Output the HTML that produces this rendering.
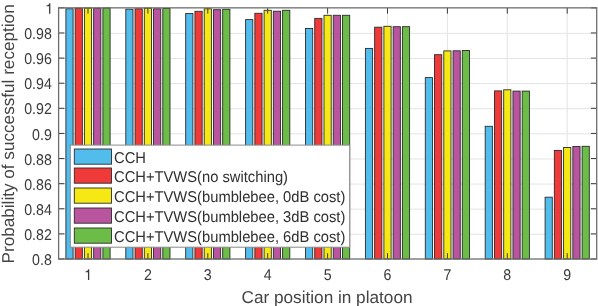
<!DOCTYPE html><html><head><meta charset="utf-8"><style>html,body{margin:0;padding:0;background:#fff;width:598px;height:306px;overflow:hidden}svg{display:block;will-change:transform}text{font-family:"Liberation Sans",sans-serif;text-rendering:geometricPrecision}</style></head><body><svg width="598" height="306" viewBox="0 0 598 306"><line x1="58.6" y1="234.28" x2="596.7" y2="234.28" stroke="#c8c8c8" stroke-width="1" stroke-dasharray="1 1"/><line x1="58.6" y1="209.17" x2="596.7" y2="209.17" stroke="#c8c8c8" stroke-width="1" stroke-dasharray="1 1"/><line x1="58.6" y1="184.06" x2="596.7" y2="184.06" stroke="#c8c8c8" stroke-width="1" stroke-dasharray="1 1"/><line x1="58.6" y1="158.94" x2="596.7" y2="158.94" stroke="#c8c8c8" stroke-width="1" stroke-dasharray="1 1"/><line x1="58.6" y1="133.82" x2="596.7" y2="133.82" stroke="#c8c8c8" stroke-width="1" stroke-dasharray="1 1"/><line x1="58.6" y1="108.71" x2="596.7" y2="108.71" stroke="#c8c8c8" stroke-width="1" stroke-dasharray="1 1"/><line x1="58.6" y1="83.59" x2="596.7" y2="83.59" stroke="#c8c8c8" stroke-width="1" stroke-dasharray="1 1"/><line x1="58.6" y1="58.48" x2="596.7" y2="58.48" stroke="#c8c8c8" stroke-width="1" stroke-dasharray="1 1"/><line x1="58.6" y1="33.36" x2="596.7" y2="33.36" stroke="#c8c8c8" stroke-width="1" stroke-dasharray="1 1"/><line x1="88.00" y1="7.85" x2="88.00" y2="259.0" stroke="#e4e4e4" stroke-width="1"/><line x1="147.90" y1="7.85" x2="147.90" y2="259.0" stroke="#e4e4e4" stroke-width="1"/><line x1="207.80" y1="7.85" x2="207.80" y2="259.0" stroke="#e4e4e4" stroke-width="1"/><line x1="267.70" y1="7.85" x2="267.70" y2="259.0" stroke="#e4e4e4" stroke-width="1"/><line x1="327.60" y1="7.85" x2="327.60" y2="259.0" stroke="#e4e4e4" stroke-width="1"/><line x1="387.50" y1="7.85" x2="387.50" y2="259.0" stroke="#e4e4e4" stroke-width="1"/><line x1="447.40" y1="7.85" x2="447.40" y2="259.0" stroke="#e4e4e4" stroke-width="1"/><line x1="507.30" y1="7.85" x2="507.30" y2="259.0" stroke="#e4e4e4" stroke-width="1"/><line x1="567.20" y1="7.85" x2="567.20" y2="259.0" stroke="#e4e4e4" stroke-width="1"/><rect x="65.90" y="8.80" width="7.20" height="250.20" fill="#52bdec" stroke="#2b2b2b" stroke-width="0.9"/><rect x="75.15" y="8.20" width="7.20" height="250.80" fill="#f03a3a" stroke="#2b2b2b" stroke-width="0.9"/><rect x="84.40" y="8.00" width="7.20" height="251.00" fill="#f6e813" stroke="#2b2b2b" stroke-width="0.9"/><rect x="93.65" y="8.20" width="7.20" height="250.80" fill="#b9549e" stroke="#2b2b2b" stroke-width="0.9"/><rect x="102.90" y="8.00" width="7.20" height="251.00" fill="#6cbd47" stroke="#2b2b2b" stroke-width="0.9"/><rect x="125.80" y="9.20" width="7.20" height="249.80" fill="#52bdec" stroke="#2b2b2b" stroke-width="0.9"/><rect x="135.05" y="8.80" width="7.20" height="250.20" fill="#f03a3a" stroke="#2b2b2b" stroke-width="0.9"/><rect x="144.30" y="8.20" width="7.20" height="250.80" fill="#f6e813" stroke="#2b2b2b" stroke-width="0.9"/><rect x="153.55" y="8.80" width="7.20" height="250.20" fill="#b9549e" stroke="#2b2b2b" stroke-width="0.9"/><rect x="162.80" y="8.50" width="7.20" height="250.50" fill="#6cbd47" stroke="#2b2b2b" stroke-width="0.9"/><rect x="185.70" y="13.50" width="7.20" height="245.50" fill="#52bdec" stroke="#2b2b2b" stroke-width="0.9"/><rect x="194.95" y="11.30" width="7.20" height="247.70" fill="#f03a3a" stroke="#2b2b2b" stroke-width="0.9"/><rect x="204.20" y="8.80" width="7.20" height="250.20" fill="#f6e813" stroke="#2b2b2b" stroke-width="0.9"/><rect x="213.45" y="9.70" width="7.20" height="249.30" fill="#b9549e" stroke="#2b2b2b" stroke-width="0.9"/><rect x="222.70" y="9.30" width="7.20" height="249.70" fill="#6cbd47" stroke="#2b2b2b" stroke-width="0.9"/><rect x="245.60" y="19.60" width="7.20" height="239.40" fill="#52bdec" stroke="#2b2b2b" stroke-width="0.9"/><rect x="254.85" y="13.30" width="7.20" height="245.70" fill="#f03a3a" stroke="#2b2b2b" stroke-width="0.9"/><rect x="264.10" y="10.30" width="7.20" height="248.70" fill="#f6e813" stroke="#2b2b2b" stroke-width="0.9"/><rect x="273.35" y="11.20" width="7.20" height="247.80" fill="#b9549e" stroke="#2b2b2b" stroke-width="0.9"/><rect x="282.60" y="10.30" width="7.20" height="248.70" fill="#6cbd47" stroke="#2b2b2b" stroke-width="0.9"/><rect x="305.50" y="28.50" width="7.20" height="230.50" fill="#52bdec" stroke="#2b2b2b" stroke-width="0.9"/><rect x="314.75" y="18.40" width="7.20" height="240.60" fill="#f03a3a" stroke="#2b2b2b" stroke-width="0.9"/><rect x="324.00" y="15.30" width="7.20" height="243.70" fill="#f6e813" stroke="#2b2b2b" stroke-width="0.9"/><rect x="333.25" y="15.30" width="7.20" height="243.70" fill="#b9549e" stroke="#2b2b2b" stroke-width="0.9"/><rect x="342.50" y="15.30" width="7.20" height="243.70" fill="#6cbd47" stroke="#2b2b2b" stroke-width="0.9"/><rect x="365.40" y="48.40" width="7.20" height="210.60" fill="#52bdec" stroke="#2b2b2b" stroke-width="0.9"/><rect x="374.65" y="27.20" width="7.20" height="231.80" fill="#f03a3a" stroke="#2b2b2b" stroke-width="0.9"/><rect x="383.90" y="26.30" width="7.20" height="232.70" fill="#f6e813" stroke="#2b2b2b" stroke-width="0.9"/><rect x="393.15" y="26.70" width="7.20" height="232.30" fill="#b9549e" stroke="#2b2b2b" stroke-width="0.9"/><rect x="402.40" y="26.70" width="7.20" height="232.30" fill="#6cbd47" stroke="#2b2b2b" stroke-width="0.9"/><rect x="425.30" y="77.60" width="7.20" height="181.40" fill="#52bdec" stroke="#2b2b2b" stroke-width="0.9"/><rect x="434.55" y="54.70" width="7.20" height="204.30" fill="#f03a3a" stroke="#2b2b2b" stroke-width="0.9"/><rect x="443.80" y="50.90" width="7.20" height="208.10" fill="#f6e813" stroke="#2b2b2b" stroke-width="0.9"/><rect x="453.05" y="50.80" width="7.20" height="208.20" fill="#b9549e" stroke="#2b2b2b" stroke-width="0.9"/><rect x="462.30" y="50.50" width="7.20" height="208.50" fill="#6cbd47" stroke="#2b2b2b" stroke-width="0.9"/><rect x="485.20" y="126.30" width="7.20" height="132.70" fill="#52bdec" stroke="#2b2b2b" stroke-width="0.9"/><rect x="494.45" y="90.90" width="7.20" height="168.10" fill="#f03a3a" stroke="#2b2b2b" stroke-width="0.9"/><rect x="503.70" y="89.80" width="7.20" height="169.20" fill="#f6e813" stroke="#2b2b2b" stroke-width="0.9"/><rect x="512.95" y="91.10" width="7.20" height="167.90" fill="#b9549e" stroke="#2b2b2b" stroke-width="0.9"/><rect x="522.20" y="91.10" width="7.20" height="167.90" fill="#6cbd47" stroke="#2b2b2b" stroke-width="0.9"/><rect x="545.10" y="197.20" width="7.20" height="61.80" fill="#52bdec" stroke="#2b2b2b" stroke-width="0.9"/><rect x="554.35" y="150.40" width="7.20" height="108.60" fill="#f03a3a" stroke="#2b2b2b" stroke-width="0.9"/><rect x="563.60" y="147.50" width="7.20" height="111.50" fill="#f6e813" stroke="#2b2b2b" stroke-width="0.9"/><rect x="572.85" y="146.50" width="7.20" height="112.50" fill="#b9549e" stroke="#2b2b2b" stroke-width="0.9"/><rect x="582.10" y="146.30" width="7.20" height="112.70" fill="#6cbd47" stroke="#2b2b2b" stroke-width="0.9"/><line x1="88.00" y1="7.85" x2="88.00" y2="13.649999999999999" stroke="#3a3a3a" stroke-width="1"/><line x1="88.00" y1="259.0" x2="88.00" y2="253.2" stroke="#3a3a3a" stroke-width="1"/><line x1="147.90" y1="7.85" x2="147.90" y2="13.649999999999999" stroke="#3a3a3a" stroke-width="1"/><line x1="147.90" y1="259.0" x2="147.90" y2="253.2" stroke="#3a3a3a" stroke-width="1"/><line x1="207.80" y1="7.85" x2="207.80" y2="13.649999999999999" stroke="#3a3a3a" stroke-width="1"/><line x1="207.80" y1="259.0" x2="207.80" y2="253.2" stroke="#3a3a3a" stroke-width="1"/><line x1="267.70" y1="7.85" x2="267.70" y2="13.649999999999999" stroke="#3a3a3a" stroke-width="1"/><line x1="267.70" y1="259.0" x2="267.70" y2="253.2" stroke="#3a3a3a" stroke-width="1"/><line x1="327.60" y1="7.85" x2="327.60" y2="13.649999999999999" stroke="#3a3a3a" stroke-width="1"/><line x1="327.60" y1="259.0" x2="327.60" y2="253.2" stroke="#3a3a3a" stroke-width="1"/><line x1="387.50" y1="7.85" x2="387.50" y2="13.649999999999999" stroke="#3a3a3a" stroke-width="1"/><line x1="387.50" y1="259.0" x2="387.50" y2="253.2" stroke="#3a3a3a" stroke-width="1"/><line x1="447.40" y1="7.85" x2="447.40" y2="13.649999999999999" stroke="#3a3a3a" stroke-width="1"/><line x1="447.40" y1="259.0" x2="447.40" y2="253.2" stroke="#3a3a3a" stroke-width="1"/><line x1="507.30" y1="7.85" x2="507.30" y2="13.649999999999999" stroke="#3a3a3a" stroke-width="1"/><line x1="507.30" y1="259.0" x2="507.30" y2="253.2" stroke="#3a3a3a" stroke-width="1"/><line x1="567.20" y1="7.85" x2="567.20" y2="13.649999999999999" stroke="#3a3a3a" stroke-width="1"/><line x1="567.20" y1="259.0" x2="567.20" y2="253.2" stroke="#3a3a3a" stroke-width="1"/><line x1="58.6" y1="259.00" x2="64.4" y2="259.00" stroke="#3a3a3a" stroke-width="1"/><line x1="596.7" y1="259.00" x2="590.9000000000001" y2="259.00" stroke="#3a3a3a" stroke-width="1"/><line x1="58.6" y1="233.88" x2="64.4" y2="233.88" stroke="#3a3a3a" stroke-width="1"/><line x1="596.7" y1="233.88" x2="590.9000000000001" y2="233.88" stroke="#3a3a3a" stroke-width="1"/><line x1="58.6" y1="208.77" x2="64.4" y2="208.77" stroke="#3a3a3a" stroke-width="1"/><line x1="596.7" y1="208.77" x2="590.9000000000001" y2="208.77" stroke="#3a3a3a" stroke-width="1"/><line x1="58.6" y1="183.66" x2="64.4" y2="183.66" stroke="#3a3a3a" stroke-width="1"/><line x1="596.7" y1="183.66" x2="590.9000000000001" y2="183.66" stroke="#3a3a3a" stroke-width="1"/><line x1="58.6" y1="158.54" x2="64.4" y2="158.54" stroke="#3a3a3a" stroke-width="1"/><line x1="596.7" y1="158.54" x2="590.9000000000001" y2="158.54" stroke="#3a3a3a" stroke-width="1"/><line x1="58.6" y1="133.42" x2="64.4" y2="133.42" stroke="#3a3a3a" stroke-width="1"/><line x1="596.7" y1="133.42" x2="590.9000000000001" y2="133.42" stroke="#3a3a3a" stroke-width="1"/><line x1="58.6" y1="108.31" x2="64.4" y2="108.31" stroke="#3a3a3a" stroke-width="1"/><line x1="596.7" y1="108.31" x2="590.9000000000001" y2="108.31" stroke="#3a3a3a" stroke-width="1"/><line x1="58.6" y1="83.19" x2="64.4" y2="83.19" stroke="#3a3a3a" stroke-width="1"/><line x1="596.7" y1="83.19" x2="590.9000000000001" y2="83.19" stroke="#3a3a3a" stroke-width="1"/><line x1="58.6" y1="58.08" x2="64.4" y2="58.08" stroke="#3a3a3a" stroke-width="1"/><line x1="596.7" y1="58.08" x2="590.9000000000001" y2="58.08" stroke="#3a3a3a" stroke-width="1"/><line x1="58.6" y1="32.96" x2="64.4" y2="32.96" stroke="#3a3a3a" stroke-width="1"/><line x1="596.7" y1="32.96" x2="590.9000000000001" y2="32.96" stroke="#3a3a3a" stroke-width="1"/><line x1="58.6" y1="7.85" x2="64.4" y2="7.85" stroke="#3a3a3a" stroke-width="1"/><line x1="596.7" y1="7.85" x2="590.9000000000001" y2="7.85" stroke="#3a3a3a" stroke-width="1"/><rect x="58.6" y="7.85" width="538.10" height="251.15" fill="none" stroke="#6e6e6e" stroke-width="1.3"/><text transform="translate(51.8 265) scale(0.91 1)" font-size="15.6" fill="#3a3a3a" text-anchor="end">0.8</text><text transform="translate(51.8 240) scale(0.91 1)" font-size="15.6" fill="#3a3a3a" text-anchor="end">0.82</text><text transform="translate(51.8 215) scale(0.91 1)" font-size="15.6" fill="#3a3a3a" text-anchor="end">0.84</text><text transform="translate(51.8 190) scale(0.91 1)" font-size="15.6" fill="#3a3a3a" text-anchor="end">0.86</text><text transform="translate(51.8 165) scale(0.91 1)" font-size="15.6" fill="#3a3a3a" text-anchor="end">0.88</text><text transform="translate(51.8 140) scale(0.91 1)" font-size="15.6" fill="#3a3a3a" text-anchor="end">0.9</text><text transform="translate(51.8 114) scale(0.91 1)" font-size="15.6" fill="#3a3a3a" text-anchor="end">0.92</text><text transform="translate(51.8 89) scale(0.91 1)" font-size="15.6" fill="#3a3a3a" text-anchor="end">0.94</text><text transform="translate(51.8 64) scale(0.91 1)" font-size="15.6" fill="#3a3a3a" text-anchor="end">0.96</text><text transform="translate(51.8 39) scale(0.91 1)" font-size="15.6" fill="#3a3a3a" text-anchor="end">0.98</text><path transform="translate(49.7 13.75) scale(0.0146 -0.01495)" fill="#3a3a3a" d="M44.5 0H-44.5V507H-219.5V569C-101 578-52 608-25 709H44.5Z"/><path transform="translate(88.60 279.9) scale(0.0146 -0.01495)" fill="#3a3a3a" d="M44.5 0H-44.5V507H-219.5V569C-101 578-52 608-25 709H44.5Z"/><text transform="translate(147.90 280.3) scale(0.91 1)" font-size="15.6" fill="#3a3a3a" text-anchor="middle">2</text><text transform="translate(207.80 280.3) scale(0.91 1)" font-size="15.6" fill="#3a3a3a" text-anchor="middle">3</text><text transform="translate(267.70 280.3) scale(0.91 1)" font-size="15.6" fill="#3a3a3a" text-anchor="middle">4</text><text transform="translate(327.60 280.3) scale(0.91 1)" font-size="15.6" fill="#3a3a3a" text-anchor="middle">5</text><text transform="translate(387.50 280.3) scale(0.91 1)" font-size="15.6" fill="#3a3a3a" text-anchor="middle">6</text><text transform="translate(447.40 280.3) scale(0.91 1)" font-size="15.6" fill="#3a3a3a" text-anchor="middle">7</text><text transform="translate(507.30 280.3) scale(0.91 1)" font-size="15.6" fill="#3a3a3a" text-anchor="middle">8</text><text transform="translate(567.20 280.3) scale(0.91 1)" font-size="15.6" fill="#3a3a3a" text-anchor="middle">9</text><text x="327.0" y="302.6" font-size="17.2" fill="#444" text-anchor="middle">Car position in platoon</text><text transform="translate(13.8 133.9) rotate(-90)" x="0" y="0" font-size="17.15" fill="#444" text-anchor="middle">Probability of successful reception</text><rect x="70.3" y="145.1" width="279.4" height="102.1" fill="#fff" stroke="#8a8a8a" stroke-width="1"/><rect x="74.3" y="149.00" width="37.2" height="15.2" fill="#52bdec" stroke="#2b2b2b" stroke-width="0.9"/><text transform="translate(114.0 163) scale(0.945 1)" font-size="15.6" fill="#303030">CCH</text><rect x="74.3" y="168.00" width="37.2" height="15.2" fill="#f03a3a" stroke="#2b2b2b" stroke-width="0.9"/><text transform="translate(114.0 182) scale(0.945 1)" font-size="15.6" fill="#303030">CCH+TVWS(no switching)</text><rect x="74.3" y="188.00" width="37.2" height="15.2" fill="#f6e813" stroke="#2b2b2b" stroke-width="0.9"/><text transform="translate(114.0 202) scale(0.945 1)" font-size="15.6" fill="#303030">CCH+TVWS(bumblebee, 0dB cost)</text><rect x="74.3" y="208.00" width="37.2" height="15.2" fill="#b9549e" stroke="#2b2b2b" stroke-width="0.9"/><text transform="translate(114.0 222) scale(0.945 1)" font-size="15.6" fill="#303030">CCH+TVWS(bumblebee, 3dB cost)</text><rect x="74.3" y="228.00" width="37.2" height="15.2" fill="#6cbd47" stroke="#2b2b2b" stroke-width="0.9"/><text transform="translate(114.0 242) scale(0.945 1)" font-size="15.6" fill="#303030">CCH+TVWS(bumblebee, 6dB cost)</text></svg></body></html>
